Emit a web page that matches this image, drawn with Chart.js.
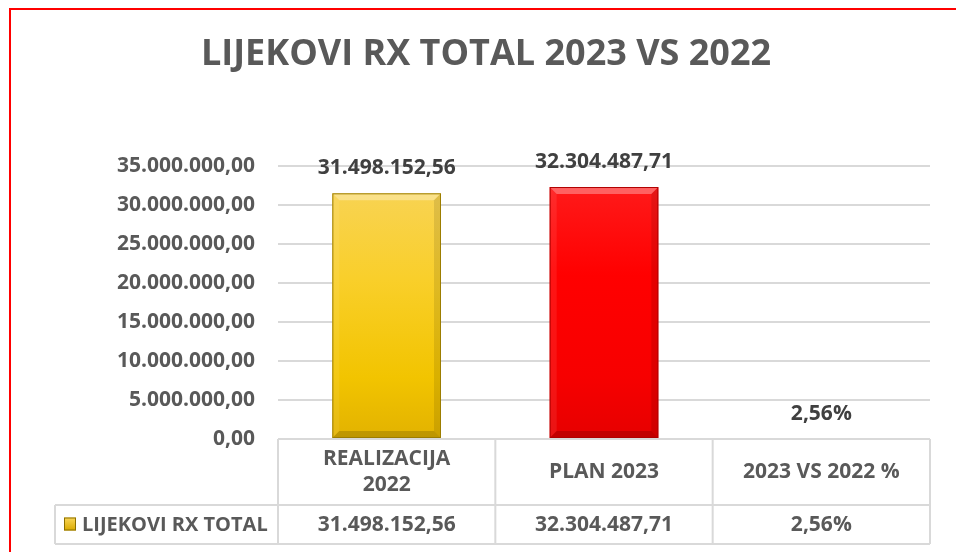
<!DOCTYPE html>
<html>
<head>
<meta charset="utf-8">
<script src="https://cdn.jsdelivr.net/npm/chart.js@4/dist/chart.umd.min.js"></script>
<style>
  html, body { margin: 0; padding: 0; background: #ffffff; }
  #wrap { position: relative; width: 956px; height: 552px; overflow: hidden; background: #fff; }
  #frame { position: absolute; left: 9px; top: 8px; width: 1000px; height: 600px;
           border-left: 2px solid #ff0000; border-top: 2px solid #ff0000; pointer-events: none; }
  canvas { position: absolute; left: 0; top: 0; }
</style>
</head>
<body>
<div id="wrap">
  <canvas id="c" width="956" height="552"></canvas>
  <div id="frame"></div>
</div>
<script>
// ---- data ----
const chartTitle = "LIJEKOVI RX TOTAL 2023 VS 2022";
const seriesName = "LIJEKOVI RX TOTAL";
const categories = [["REALIZACIJA", "2022"], ["PLAN 2023"], ["2023 VS 2022 %"]];
const values = [31498152.56, 32304487.71, 2.56];
const valueKinds = ["number", "number", "percent"];
const yMin = 0;
const yMax = 35000000;
const yStep = 5000000;

// ---- helpers ----
function fmtNumber(v, dec) {
  const fixed = Math.abs(v).toFixed(dec);
  let [ip, dp] = fixed.split(".");
  ip = ip.replace(/\B(?=(\d{3})+(?!\d))/g, ".");
  return (v < 0 ? "-" : "") + ip + (dp ? "," + dp : "");
}
function fmtValue(i) {
  return valueKinds[i] === "percent" ? fmtNumber(values[i], 2) + "%" : fmtNumber(values[i], 2);
}

const FONT = '"Open Sans", "Noto Sans", "DejaVu Sans", sans-serif';
const TEXT = "#595959";
const LABEL = "#404040";
const LINE = "#d9d9d9";
const FS = 21;

const palettes = [
  { stops: ["#f8d352", "#f9cf2a", "#f2c400", "#e2b200"], border: "#9c7d00" },
  { stops: ["#ff1a1a", "#ff0000", "#f70000", "#e60000"], border: "#b00000" },
  { stops: ["#f8d352", "#f9cf2a", "#f2c400", "#e2b200"], border: "#9c7d00" }
];

function barFill(ctx) {
  const chart = ctx.chart;
  const area = chart.chartArea;
  if (!area) return palettes[ctx.dataIndex].stops[1];
  const y = chart.scales.y;
  const top = y.getPixelForValue(values[ctx.dataIndex]);
  const g = chart.ctx.createLinearGradient(0, Math.min(top, area.bottom - 1), 0, area.bottom);
  const s = palettes[ctx.dataIndex].stops;
  g.addColorStop(0, s[0]);
  g.addColorStop(0.35, s[1]);
  g.addColorStop(0.75, s[2]);
  g.addColorStop(1, s[3]);
  return g;
}

// bevel + value labels
const bevelPlugin = {
  id: "bevel",
  afterDatasetsDraw(chart) {
    const c = chart.ctx;
    const meta = chart.getDatasetMeta(0);
    meta.data.forEach((bar, i) => {
      const p = bar.getProps(["x", "y", "base", "width"], true);
      const l = p.x - p.width / 2, r = p.x + p.width / 2, t = p.y, b = p.base;
      const h = b - t;
      if (h > 16) {
        const e = 7;
        c.save();
        const poly = (pts, col) => {
          c.beginPath(); c.moveTo(pts[0][0], pts[0][1]);
          for (let k = 1; k < pts.length; k++) c.lineTo(pts[k][0], pts[k][1]);
          c.closePath(); c.fillStyle = col; c.fill();
        };
        poly([[l, t], [r, t], [r - e, t + e], [l + e, t + e]], "rgba(255,255,255,0.32)");
        poly([[l, t], [l + e, t + e], [l + e, b - e], [l, b]], "rgba(255,255,255,0.08)");
        poly([[r, t], [r, b], [r - e, b - e], [r - e, t + e]], "rgba(0,0,0,0.10)");
        poly([[l, b], [l + e, b - e], [r - e, b - e], [r, b]], "rgba(0,0,0,0.16)");
        c.strokeStyle = palettes[i].border;
        c.lineWidth = 1;
        c.strokeRect(l + 0.5, t + 0.5, p.width - 1, h - 1);
        c.restore();
      }
      c.save();
      c.font = "bold " + FS + "px " + FONT;
      c.fillStyle = LABEL;
      c.textAlign = "center";
      c.textBaseline = "middle";
      c.fillText(fmtValue(i), p.x, t - 25);
      c.restore();
    });
  }
};

// title + data table
const tablePlugin = {
  id: "table",
  afterDraw(chart) {
    const c = chart.ctx;
    const x = chart.scales.x;
    const area = chart.chartArea;
    const n = categories.length;
    const half = (x.getPixelForValue(1) - x.getPixelForValue(0)) / 2;
    const top = area.bottom;
    const mid = top + 66;
    const bot = mid + 39;
    const legendLeft = 55;

    c.save();
    // title
    c.font = "bold 36px " + FONT;
    c.fillStyle = TEXT;
    c.textAlign = "center";
    c.textBaseline = "middle";
    c.fillText(chartTitle, 486, 55);

    // lines
    c.strokeStyle = LINE;
    c.lineWidth = 2;
    c.beginPath();
    c.moveTo(area.left, top); c.lineTo(area.right, top);
    c.moveTo(legendLeft, mid); c.lineTo(area.right, mid);
    c.moveTo(legendLeft, bot); c.lineTo(area.right, bot);
    c.moveTo(legendLeft, mid); c.lineTo(legendLeft, bot);
    for (let i = 0; i <= n; i++) {
      const px = i < n ? x.getPixelForValue(i) - half : x.getPixelForValue(n - 1) + half;
      c.moveTo(px, top); c.lineTo(px, bot);
    }
    c.stroke();

    // header text
    c.font = "bold " + FS + "px " + FONT;
    c.fillStyle = TEXT;
    categories.forEach((lines, i) => {
      const cx = x.getPixelForValue(i);
      const lh = 26;
      const cy = (top + mid) / 2 - (lines.length - 1) * lh / 2;
      lines.forEach((ln, k) => c.fillText(ln, cx, cy + k * lh));
      c.fillText(fmtValue(i), cx, (mid + bot) / 2 + 1);
    });

    // legend key
    const ky = (mid + bot) / 2;
    const kx = 64, ks = 12;
    const g = c.createLinearGradient(0, ky - ks / 2, 0, ky + ks / 2);
    g.addColorStop(0, "#f8d352"); g.addColorStop(1, "#d9aa00");
    c.fillStyle = g;
    c.fillRect(kx, ky - ks / 2 - 1, ks, ks + 1);
    c.strokeStyle = "#8c7000"; c.lineWidth = 1;
    c.strokeRect(kx + 0.5, ky - ks / 2 - 0.5, ks - 1, ks);
    c.font = "bold 20px " + FONT;
    c.fillStyle = TEXT;
    c.textAlign = "left";
    c.fillText(seriesName, 82, ky + 1);
    c.restore();
  }
};

new Chart(document.getElementById("c"), {
  type: "bar",
  data: {
    labels: categories.map(l => l.join(" ")),
    datasets: [{
      label: seriesName,
      data: values,
      backgroundColor: barFill,
      borderWidth: 0,
      categoryPercentage: 1,
      barPercentage: 0.5
    }]
  },
  options: {
    responsive: false,
    animation: false,
    devicePixelRatio: 1,
    layout: { padding: { top: 166, bottom: 113, left: 0, right: 26 } },
    plugins: { legend: { display: false }, title: { display: false }, tooltip: { enabled: false } },
    scales: {
      x: {
        display: false
      },
      y: {
        min: yMin, max: yMax,
        afterFit(scale) { scale.width = 278; },
        grid: { color: LINE, lineWidth: 2, drawTicks: false },
        border: { display: false },
        ticks: {
          stepSize: yStep,
          padding: 23,
          color: TEXT,
          font: { family: FONT, size: FS, weight: "bold" },
          callback: v => fmtNumber(v, 2)
        }
      }
    }
  },
  plugins: [bevelPlugin, tablePlugin]
});
</script>
</body>
</html>
